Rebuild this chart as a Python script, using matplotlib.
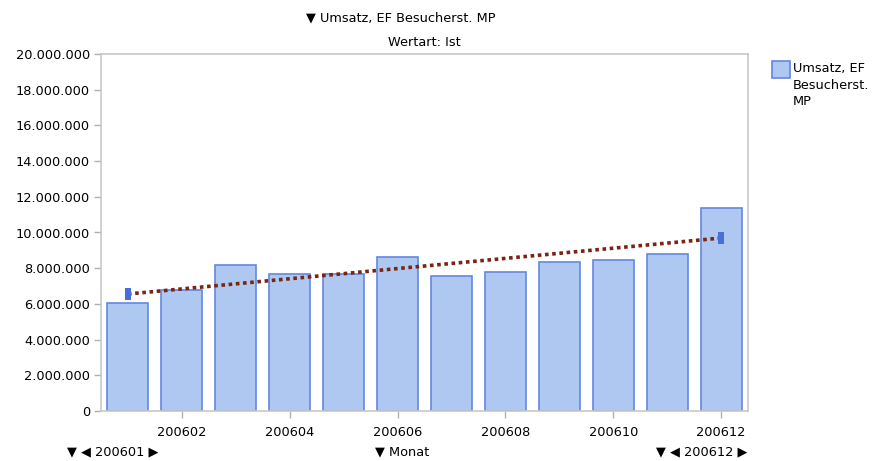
import numpy as np
import matplotlib
matplotlib.use("Agg")
import matplotlib.pyplot as plt
from matplotlib.patches import Rectangle
from matplotlib.ticker import FuncFormatter

months = ["200601", "200602", "200603", "200604", "200605", "200606",
          "200607", "200608", "200609", "200610", "200611", "200612"]
umsatz = [6070000, 6800000, 8200000, 7700000, 7650000, 8600000,
          7580000, 7800000, 8370000, 8480000, 8820000, 11400000]
series_name = "Umsatz, EF Besucherst. MP"
legend_label = "Umsatz, EF\nBesucherst.\nMP"
y_ticks = list(range(0, 20000001, 2000000))

plt.rcParams['font.family'] = ['DejaVu Sans']
FS = 9.3

fig = plt.figure(figsize=(8.84, 4.61), dpi=100)
ax = fig.add_axes([101/884, 50/461, 647/884, 357/461])

x = np.arange(1, len(months) + 1)
ax.bar(x, umsatz, width=0.76, color='#aec8f2', edgecolor='#6488e0', linewidth=1.2, zorder=2)

# linear trend
coef = np.polyfit(x, umsatz, 1)
tx = np.array([x[0], x[-1]])
ty = np.polyval(coef, tx)
ax.plot(tx, ty, color='#7a2412', linestyle=(0, (1, 1)), linewidth=2.6, zorder=3,
        solid_capstyle='butt', dash_capstyle='butt')
rect_marker = [(-0.5, -1), (0.5, -1), (0.5, 1), (-0.5, 1), (-0.5, -1)]
ax.plot(tx, ty, linestyle='none', marker=rect_marker, markersize=9,
        color='#4a6ed8', markeredgewidth=0, zorder=4)

ax.set_xlim(0.5, 12.5)
ax.set_ylim(0, 20000000)
ax.set_yticks(y_ticks)
ax.yaxis.set_major_formatter(FuncFormatter(lambda v, p: f"{int(v):,}".replace(",", ".")))
ax.set_xticks(x[1::2])
ax.set_xticklabels([months[i] for i in range(1, 12, 2)])

for s in ax.spines.values():
    s.set_color('#c8c8c8')
    s.set_linewidth(1.2)
ax.tick_params(axis='both', colors='#b0b0b0', labelcolor='#000000', labelsize=FS,
               length=5, width=1)
ax.tick_params(axis='y', pad=3)
ax.tick_params(axis='x', pad=6)

# titles
fig.text(401/884, 1 - 18/461, "\u25BC " + series_name, ha='center', va='center', fontsize=FS)
fig.text(424/884, 1 - 42/461, "Wertart: Ist", ha='center', va='center', fontsize=FS)

# bottom navigation texts
fig.text(67/884, 9/461, "\u25BC \u25C0 " + months[0] + " \u25B6", ha='left', va='center', fontsize=FS)
fig.text(375/884, 9/461, "\u25BC Monat", ha='left', va='center', fontsize=FS)
fig.text(747/884, 9/461, "\u25BC \u25C0 " + months[-1] + " \u25B6", ha='right', va='center', fontsize=FS)

# legend
fig.patches.append(Rectangle((772/884, 1 - 78/461), 18/884, 17/461, transform=fig.transFigure,
                             facecolor='#aec8f2', edgecolor='#6488e0', linewidth=1.2))
fig.text(793/884, 1 - 62/461, legend_label, ha='left', va='top', fontsize=FS, linespacing=1.35)

fig.savefig("out.png", dpi=100)
